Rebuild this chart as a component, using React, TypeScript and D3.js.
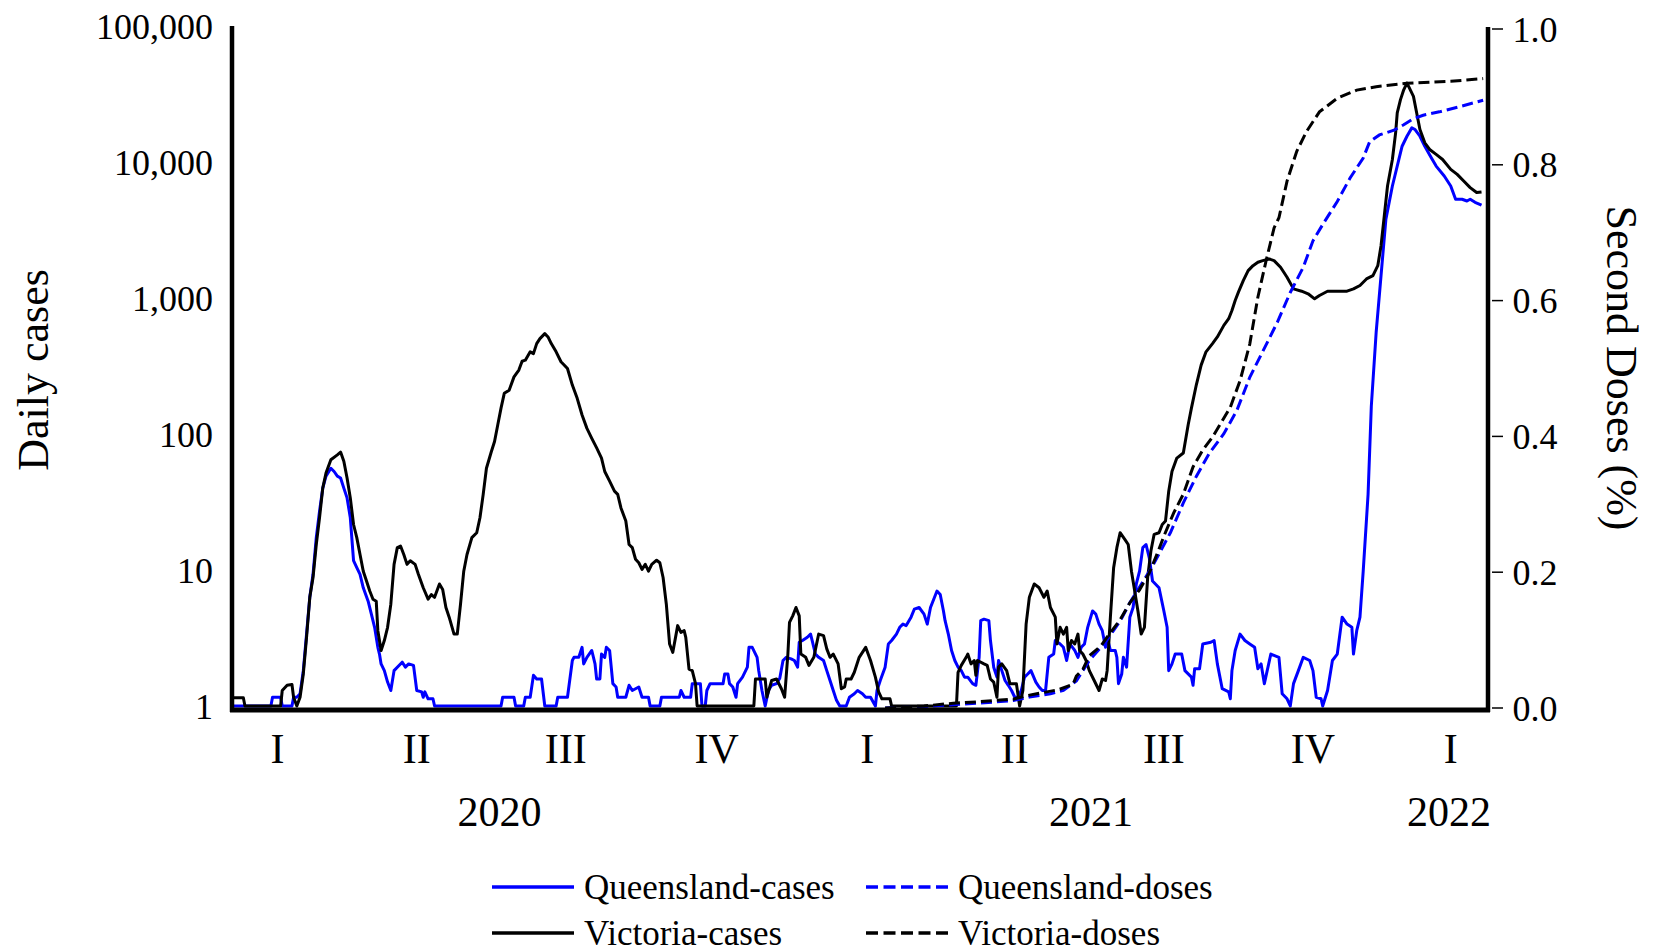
import React from "react";
import * as d3 from "d3";

type Pt = [number, number];

// day offsets from startDate, value
const startDate = "2020-01-18";
const endDay = 775;

const qldCases: Pt[] = [[0,1],[24,1],[25,1.16],[30,1.16],[31,1],[37,1],[38,1.16],[40,1.16],[42,1.23],[44,1.82],[46,3.38],[48,6.3],[50,9.3],[52,17.3],[54,27],[56,40],[58,49],[61,56],[63,53],[65,49],[67,47.5],[69,40],[71,33.9],[73,24.2],[75,11.7],[77,10.4],[79,9.3],[81,7.4],[84,5.9],[86,4.74],[88,3.79],[90,2.7],[91,2.41],[92,2.04],[94,1.82],[96,1.5],[98,1.3],[100,1.82],[102,1.93],[105,2.1],[107,1.93],[109,2.04],[112,1.99],[114,1.3],[117,1.27],[118,1.16],[119,1.27],[121,1.13],[124,1.13],[125,1],[166,1],[167,1.16],[174,1.16],[175,1],[180,1],[181,1.16],[184,1.16],[186,1.68],[188,1.58],[191,1.58],[193,1],[200,1],[201,1.16],[207,1.16],[210,2.16],[211,2.28],[214,2.28],[216,2.7],[217,2.04],[219,2.28],[222,2.56],[224,2.04],[225,1.58],[227,1.58],[228,2.41],[230,2.28],[231,2.7],[233,2.56],[235,1.46],[237,1.38],[238,1.16],[243,1.16],[245,1.42],[247,1.3],[251,1.38],[253,1.16],[257,1.16],[258,1],[264,1],[265,1.16],[276,1.16],[277,1.3],[279,1.16],[283,1.16],[284,1.46],[289,1.46],[290,1],[292,1],[293,1.3],[295,1.46],[303,1.46],[304,1.72],[306,1.72],[307,1.46],[309,1.38],[311,1.16],[312,1.46],[315,1.63],[318,1.93],[319,2.7],[321,2.7],[324,2.28],[325,1.82],[327,1.3],[329,1],[331,1.3],[333,1.42],[336,1.46],[338,1.6],[340,2.16],[342,2.28],[345,2.22],[347,2.16],[349,1.93],[350,2.94],[352,3.03],[355,3.2],[357,3.38],[358,3.03],[360,2.41],[362,2.28],[365,2.16],[367,1.82],[369,1.54],[371,1.3],[373,1.1],[375,1],[379,1],[381,1.16],[384,1.23],[386,1.3],[389,1.23],[391,1.16],[394,1.16],[397,1],[398,1.3],[400,1.54],[403,1.93],[405,2.86],[407,3.03],[410,3.38],[412,3.79],[414,4.0],[416,3.9],[419,4.5],[421,5.15],[424,5.3],[427,4.74],[429,4.0],[431,5.3],[433,6.1],[435,7.0],[437,6.6],[439,5.0],[440,4.24],[442,3.38],[444,2.56],[446,2.16],[448,1.93],[450,1.82],[452,1.63],[454,1.63],[457,1.46],[459,1.42],[461,2.28],[462,4.24],[464,4.35],[467,4.24],[468,3.03],[470,1.93],[472,1.63],[473,2.16],[475,1.82],[477,1.54],[479,1.42],[481,1.3],[483,1.16],[485,1.16],[487,1.3],[489,1.63],[491,1.72],[493,1.82],[496,1.5],[498,1.38],[500,1.3],[502,1.3],[504,2.28],[507,2.41],[508,3.03],[511,2.86],[513,2.7],[515,2.16],[517,2.86],[520,2.56],[522,2.28],[524,2.7],[526,2.86],[528,3.79],[531,5.0],[533,4.74],[535,4.0],[537,3.58],[539,2.7],[540,3.2],[542,2.56],[545,2.56],[546,2.28],[547,1.46],[549,1.72],[550,2.28],[552,1.93],[554,4.5],[556,5.3],[558,7.9],[560,9.8],[562,14.6],[564,15.4],[566,12.3],[568,8.3],[572,7.4],[575,5.0],[577,3.79],[578,1.82],[580,2.04],[582,2.41],[586,2.41],[588,1.82],[592,1.63],[593,1.42],[594,1.88],[597,1.88],[599,2.86],[604,2.94],[606,3.03],[608,2.04],[611,1.34],[615,1.27],[616,1.13],[617,1.82],[619,2.56],[622,3.38],[625,3.03],[628,2.86],[631,2.7],[633,1.88],[635,2.04],[637,1.46],[641,2.41],[646,2.28],[648,1.23],[651,1.13],[653,1],[655,1.46],[658,1.82],[661,2.28],[665,2.16],[667,1.82],[669,1.16],[672,1.13],[673,1],[676,1.3],[679,2.16],[682,2.41],[685,4.5],[688,4.0],[691,3.79],[692,2.41],[694,3.58],[696,4.5],[698,9.8],[701,36],[703,160],[706,562],[709,1462],[712,3800],[716,6660],[720,10440],[722,13060],[725,15470],[728,17820],[730,17330],[733,15470],[736,13060],[740,10740],[743,9330],[748,7890],[752,6660],[755,5320],[759,5320],[762,5170],[764,5320],[767,5050],[771,4810]];

const vicCases: Pt[] = [[0,1.15],[4,1.15],[7,1.15],[8,1],[30,1],[31,1.3],[34,1.42],[37,1.44],[38,1.16],[40,1],[42,1.16],[44,1.72],[46,3.2],[48,6.3],[50,8.8],[52,15.4],[54,24.2],[56,40],[58,51.6],[61,64.6],[65,70.3],[67,73.6],[69,63],[71,47.5],[73,33.9],[75,21.6],[77,17.3],[79,13],[81,9.8],[83,8.3],[85,7],[87,6.1],[89,5.9],[90,3.58],[92,2.56],[94,3.03],[96,3.79],[98,5.6],[100,11],[102,14.6],[104,15],[106,13],[108,11],[110,11.7],[113,11],[115,9.3],[118,7.4],[121,6.1],[123,6.6],[125,6.3],[128,7.9],[130,7.2],[132,5.3],[134,4.5],[137,3.38],[139,3.38],[141,5.6],[143,9.8],[145,13],[148,17.3],[151,18.8],[153,24.2],[155,36],[157,56],[160,74],[162,88],[164,117],[166,155],[168,199],[171,210],[174,263],[177,295],[179,343],[181,349],[184,402],[186,390],[188,462],[190,503],[193,547],[195,517],[197,462],[200,402],[203,340],[207,303],[210,229],[213,183],[216,138],[219,110],[222,93],[225,79],[228,66.5],[230,53],[233,45],[236,38],[238,36],[240,28.6],[243,22.9],[245,15.4],[247,14.6],[249,12],[251,11.3],[253,10.1],[255,11],[257,9.8],[259,11],[262,11.8],[264,11.3],[266,8.8],[268,5.6],[270,2.86],[272,2.48],[275,3.9],[277,3.48],[279,3.58],[280,3.2],[282,1.87],[284,1.82],[286,1.46],[287,1],[322,1],[323,1.58],[329,1.58],[330,1.16],[333,1.54],[336,1.58],[339,1.34],[341,1.16],[343,2.41],[344,4.12],[346,4.6],[348,5.3],[350,4.6],[351,2.41],[354,2.28],[356,1.99],[359,2.28],[362,3.38],[365,3.29],[367,2.63],[369,2.28],[371,2.41],[374,2.04],[376,1.34],[378,1.38],[379,1.58],[382,1.58],[384,1.77],[387,2.28],[391,2.7],[394,2.16],[397,1.63],[399,1.27],[401,1.13],[406,1.13],[407,1],[447,1],[448,1.77],[450,1.99],[453,2.28],[454,2.41],[456,2.04],[458,2.16],[459,1.68],[460,2.16],[464,2.04],[466,1.99],[468,1.58],[470,1.5],[472,1.16],[473,1.93],[475,2.04],[478,1.82],[480,1.46],[484,1.46],[486,1],[488,1.3],[490,4],[492,6.3],[495,7.9],[498,7.4],[501,6.3],[503,7],[505,5.3],[508,4.5],[509,2.86],[511,3.79],[513,3.38],[515,3.79],[516,2.56],[518,3.03],[520,2.86],[522,3.38],[523,2.56],[525,2.41],[527,2.16],[529,1.82],[532,1.54],[535,1.3],[537,1.58],[539,1.54],[540,1.82],[542,4.5],[544,10.4],[546,14.6],[548,18.8],[551,16.7],[553,15.4],[555,9.8],[557,7],[559,5],[561,3.38],[563,3.79],[565,8.8],[567,13.8],[569,18.3],[572,18.8],[574,21.6],[576,22.9],[578,38],[580,53],[583,66.5],[587,72.5],[590,117],[592,155],[595,229],[598,321],[601,402],[605,462],[608,517],[612,629],[615,704],[617,810],[619,959],[621,1104],[624,1343],[627,1589],[630,1729],[633,1832],[636,1882],[640,1937],[643,1882],[647,1683],[651,1422],[655,1167],[660,1122],[664,1074],[668,986],[671,1043],[676,1122],[682,1122],[688,1122],[692,1167],[696,1236],[700,1381],[704,1462],[707,1729],[709,2421],[711,4018],[713,6660],[716,10440],[718,16380],[719,22950],[721,28740],[723,33960],[725,38020],[726,35940],[729,30370],[731,22950],[733,17330],[736,13840],[739,12370],[743,11370],[747,10440],[752,8830],[756,8110],[760,7250],[764,6480],[768,5960],[771,6020]];

const qldDoses: Pt[] = [[403,0],[427,0.002],[460,0.007],[482,0.011],[492,0.016],[505,0.021],[513,0.026],[521,0.04],[529,0.07],[539,0.097],[548,0.128],[554,0.155],[560,0.178],[568,0.209],[579,0.258],[587,0.302],[595,0.341],[603,0.375],[612,0.404],[620,0.438],[628,0.487],[636,0.525],[645,0.568],[653,0.612],[661,0.649],[667,0.688],[673,0.712],[682,0.746],[690,0.781],[698,0.81],[702,0.834],[708,0.844],[717,0.851],[723,0.859],[729,0.868],[735,0.873],[745,0.878],[758,0.886],[772,0.895]];

const vicDoses: Pt[] = [[403,0],[427,0.003],[445,0.007],[460,0.009],[470,0.011],[482,0.013],[490,0.018],[501,0.023],[510,0.027],[519,0.035],[521,0.047],[525,0.057],[529,0.077],[536,0.091],[542,0.111],[548,0.13],[554,0.155],[560,0.174],[566,0.199],[571,0.228],[575,0.253],[581,0.287],[587,0.315],[593,0.355],[599,0.38],[605,0.399],[610,0.419],[616,0.443],[622,0.482],[628,0.536],[633,0.605],[638,0.658],[643,0.707],[646,0.722],[651,0.776],[657,0.82],[663,0.849],[671,0.878],[682,0.898],[694,0.91],[706,0.915],[725,0.92],[752,0.923],[772,0.927]];

const caseTicks = [1, 10, 100, 1000, 10000, 100000];
const doseTicks = [0, 0.2, 0.4, 0.6, 0.8, 1.0];
const quarterLabels = ["I", "II", "III", "IV", "I", "II", "III", "IV", "I"];
const quarterDates = ["2020-02-15", "2020-05-11", "2020-08-11", "2020-11-12", "2021-02-13", "2021-05-15", "2021-08-15", "2021-11-15", "2022-02-08"];
const yearLabels = ["2020", "2021", "2022"];
const yearDates = ["2020-07-01", "2021-07-01", "2022-02-07"];
const seriesNames = ["Queensland-cases", "Queensland-doses", "Victoria-cases", "Victoria-doses"];

const BLUE = "#0000ff";
const BLACK = "#000000";
const DASH = "11,5";
const LEGEND_DASH = "12,5.5";

export default function App() {
  const W = 1653, H = 952;
  const left = 232, right = 1488;
  const parse = d3.utcParse("%Y-%m-%d");
  const t0 = parse(startDate) as Date;
  const toDate = (d: number) => d3.utcDay.offset(t0, d);
  const x = d3.scaleUtc().domain([t0, toDate(endDay)]).range([left, right]);
  const yCases = d3.scaleLog().domain([1, 100000]).range([706, 26]);
  const yDoses = d3.scaleLinear().domain([0, 1]).range([708, 29]);
  const caseLine = d3.line<Pt>().x(d => x(toDate(d[0]))).y(d => yCases(Math.max(1, d[1])));
  const doseLine = d3.line<Pt>().x(d => x(toDate(d[0]))).y(d => yDoses(d[1]));
  const fmtL = d3.format(",");
  const fmtR = d3.format(".1f");
  const font = "'Liberation Serif', 'Times New Roman', Times, serif";

  const legendItems = [
    { name: seriesNames[0], color: BLUE, dash: undefined as string | undefined, col: 0, row: 0 },
    { name: seriesNames[1], color: BLUE, dash: LEGEND_DASH, col: 1, row: 0 },
    { name: seriesNames[2], color: BLACK, dash: undefined, col: 0, row: 1 },
    { name: seriesNames[3], color: BLACK, dash: LEGEND_DASH, col: 1, row: 1 },
  ];
  const legendColX = [492, 866];
  const legendRowY = [887, 933];

  return (
    <svg width={W} height={H} viewBox={`0 0 ${W} ${H}`}
      style={{ position: "absolute", left: 0, top: 0, background: "#fff" }}
      fontFamily={font}>
      <rect x={0} y={0} width={W} height={H} fill="#fff" />
      {/* data */}
      <path d={caseLine(qldCases) || ""} fill="none" stroke={BLUE} strokeWidth={3} strokeLinejoin="round" />
      <path d={caseLine(vicCases) || ""} fill="none" stroke={BLACK} strokeWidth={3} strokeLinejoin="round" />
      <path d={doseLine(qldDoses) || ""} fill="none" stroke={BLUE} strokeWidth={3} strokeDasharray={DASH} />
      <path d={doseLine(vicDoses) || ""} fill="none" stroke={BLACK} strokeWidth={3} strokeDasharray={DASH} />

      {/* axes */}
      <line x1={left} x2={left} y1={26} y2={712} stroke={BLACK} strokeWidth={4.5} />
      <line x1={right} x2={right} y1={27} y2={712} stroke={BLACK} strokeWidth={4.5} />
      <line x1={left - 2} x2={right + 2} y1={710} y2={710} stroke={BLACK} strokeWidth={5} />

      {caseTicks.map(t => (
        <text key={"l" + t} x={213} y={yCases(t)} dy="0.35em" textAnchor="end" fontSize={36} fill={BLACK}>{fmtL(t)}</text>
      ))}
      {doseTicks.map(t => (
        <g key={"r" + t}>
          <line x1={1492} x2={1503} y1={yDoses(t)} y2={yDoses(t)} stroke={BLACK} strokeWidth={1.5} />
          <text x={1512.5} y={yDoses(t)} dy="0.35em" textAnchor="start" fontSize={36} fill={BLACK}>{fmtR(t)}</text>
        </g>
      ))}
      {quarterLabels.map((q, i) => (
        <text key={"q" + i} x={x(parse(quarterDates[i]) as Date)} y={763} textAnchor="middle" fontSize={42} fill={BLACK}>{q}</text>
      ))}
      {yearLabels.map((yl, i) => (
        <text key={"y" + i} x={x(parse(yearDates[i]) as Date)} y={826} textAnchor="middle" fontSize={42} fill={BLACK}>{yl}</text>
      ))}

      <text transform="translate(48,370) rotate(-90)" textAnchor="middle" fontSize={44} fill={BLACK}>Daily cases</text>
      <text transform="translate(1607,368) rotate(90)" textAnchor="middle" fontSize={44} fill={BLACK}>Second Doses (%)</text>

      {legendItems.map((it, i) => (
        <g key={"lg" + i}>
          <line x1={legendColX[it.col]} x2={legendColX[it.col] + 82} y1={legendRowY[it.row]} y2={legendRowY[it.row]}
            stroke={it.color} strokeWidth={3.5} strokeDasharray={it.dash} />
          <text x={legendColX[it.col] + 92} y={legendRowY[it.row] + 11.5} fontSize={35} fill={BLACK}>{it.name}</text>
        </g>
      ))}
    </svg>
  );
}
